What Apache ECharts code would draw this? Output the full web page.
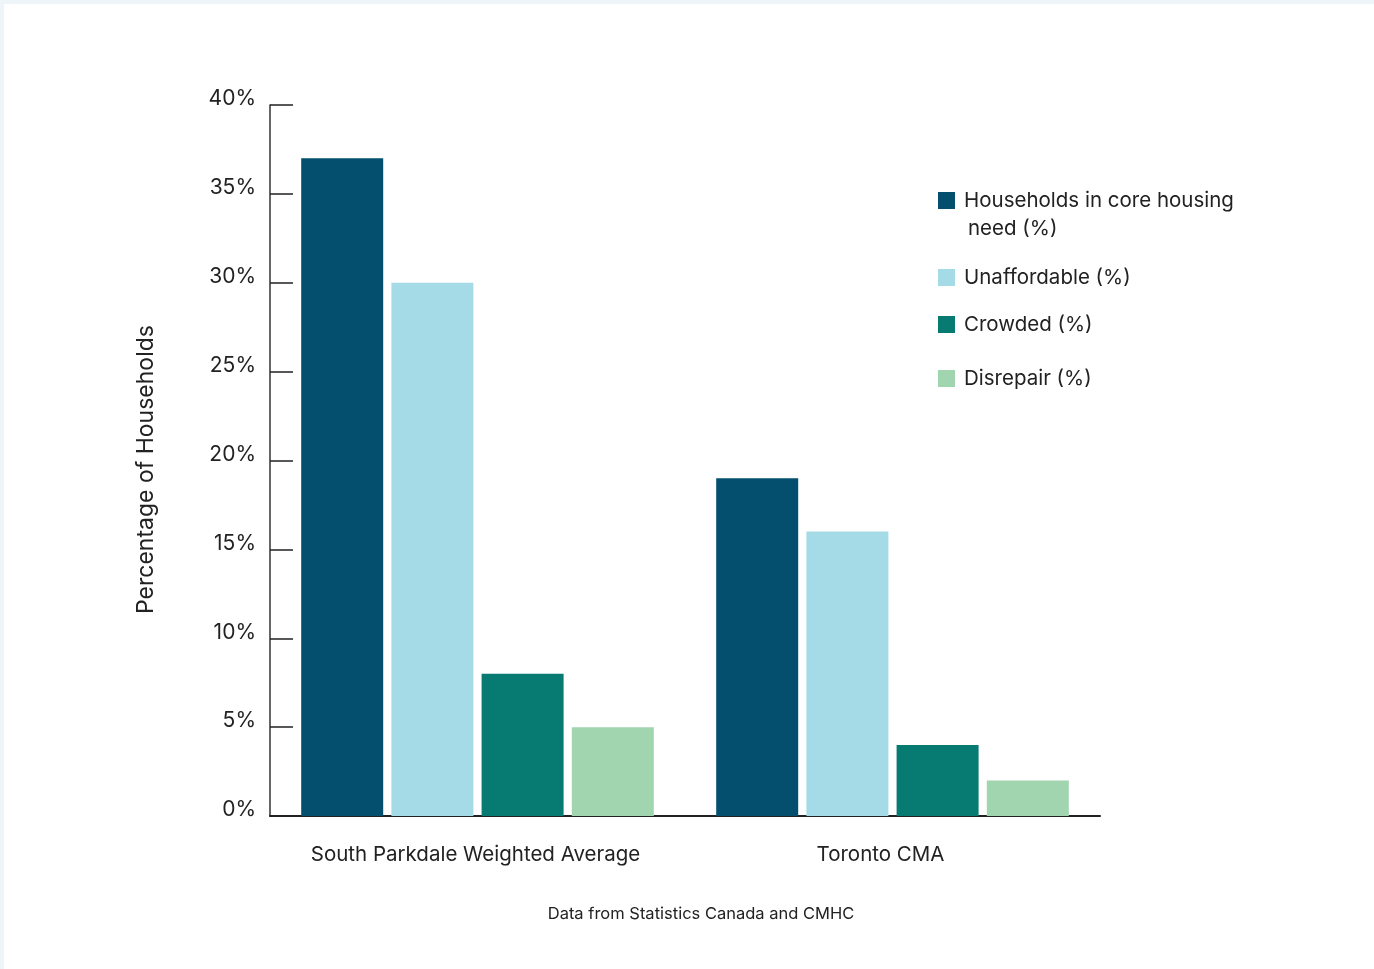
<!DOCTYPE html>
<html>
<head>
<meta charset="utf-8">
<title>Core housing need</title>
<script src="https://cdn.jsdelivr.net/npm/echarts@6/dist/echarts.min.js"></script>
<style>
  html, body { margin: 0; padding: 0; width: 1374px; height: 969px; overflow: hidden; background: #edf5f8; }
  #sheet { position: absolute; left: 4px; top: 4px; right: 0; bottom: 0; background: #ffffff; }
  #chart { position: absolute; left: 0; top: 0; width: 1374px; height: 969px; }
</style>
</head>
<body>
<div id="sheet"></div>
<div id="chart"></div>
<script>
// Areas compared
const categories = ['South Parkdale Weighted Average', 'Toronto CMA'];

// Share of households (%) per indicator
const coreNeed      = [37, 19];
const unaffordable  = [30, 16];
const crowded       = [8, 4];
const disrepair     = [5, 2];

const seriesNames = [
  'Households in core housing need (%)',
  'Unaffordable (%)',
  'Crowded (%)',
  'Disrepair (%)'
];
const seriesValues = [coreNeed, unaffordable, crowded, disrepair];
const colors = ['#044f6e', '#a4dbe6', '#077b71', '#a1d5b0'];

// Y axis ticks: 0% .. 40% every 5%
const yMin = 0, yMax = 40, yStep = 5;

const FONT = 'Inter, "Liberation Sans", sans-serif';
const TEXT = '#222222';

const chart = echarts.init(document.getElementById('chart'), null, { renderer: 'canvas' });

// one legend block per series so each row sits at its own height
const legendRows = [199, 276, 323, 377];
const legendLabels = ['Households in core housing', 'Unaffordable (%)', 'Crowded (%)', 'Disrepair (%)'];

const legends = seriesNames.map((name, i) => ({
  data: [name],
  left: 938,
  top: legendRows[i] - 9,
  padding: 0,
  orient: 'vertical',
  itemWidth: 17,
  itemHeight: 17,
  icon: 'rect',
  selectedMode: false,
  formatter: () => legendLabels[i],
  textStyle: {
    fontFamily: FONT,
    fontSize: 20.5,
    lineHeight: 20,
    color: TEXT,
    padding: [0, 0, 0, 4]
  }
}));

const option = {
  animation: false,
  color: colors,
  textStyle: { fontFamily: FONT },
  grid: { left: 270, right: 274, top: 105, bottom: 153, containLabel: false },
  legend: legends,
  xAxis: {
    type: 'category',
    data: categories,
    boundaryGap: true,
    axisLine: { show: true, lineStyle: { color: '#222222', width: 2 } },
    axisTick: { show: false },
    axisLabel: {
      fontFamily: FONT, fontSize: 20.5, color: TEXT, margin: 28, interval: 0,
      // the second area name sits a little left of its group's centre
      formatter: (v, idx) => idx === 0 ? '{a|' + v + '}' : '{b|' + v + '}',
      rich: {
        a: { fontFamily: FONT, fontSize: 20.5, color: TEXT, padding: [0, 4, 0, 0] },
        b: { fontFamily: FONT, fontSize: 20.5, color: TEXT, padding: [0, 24, 0, 0] }
      }
    },
    splitLine: { show: false }
  },
  yAxis: {
    type: 'value',
    min: yMin,
    max: yMax,
    interval: yStep,
    name: 'Percentage of Households',
    nameLocation: 'middle',
    nameGap: 112,
    nameRotate: 90,
    nameTextStyle: { fontFamily: FONT, fontSize: 23, color: TEXT, padding: [0, 0, 0, -18] },
    axisLine: { show: true, lineStyle: { color: '#333333', width: 1.5 } },
    axisTick: { show: true, inside: true, length: 23, lineStyle: { color: '#222222', width: 1.5 } },
    axisLabel: {
      fontFamily: FONT, fontSize: 21, color: TEXT, margin: 14,
      verticalAlign: 'bottom', lineHeight: 12,
      formatter: v => v + '%'
    },
    splitLine: { show: false }
  },
  graphic: [
    {
      type: 'text',
      left: 968,
      top: 218,
      style: { text: 'need (%)', fontFamily: FONT, fontSize: 20.5, fill: TEXT }
    },
    {
      type: 'text',
      x: 701,
      y: 914,
      style: {
        text: 'Data from Statistics Canada and CMHC',
        fontFamily: FONT, fontSize: 16.5, fill: TEXT,
        align: 'center', verticalAlign: 'middle'
      }
    }
  ],
  series: seriesNames.map((name, i) => ({
    name,
    type: 'bar',
    data: seriesValues[i],
    barWidth: 82,
    barGap: '10%',
    itemStyle: { color: colors[i] }
  }))
};

chart.setOption(option);
</script>
</body>
</html>
